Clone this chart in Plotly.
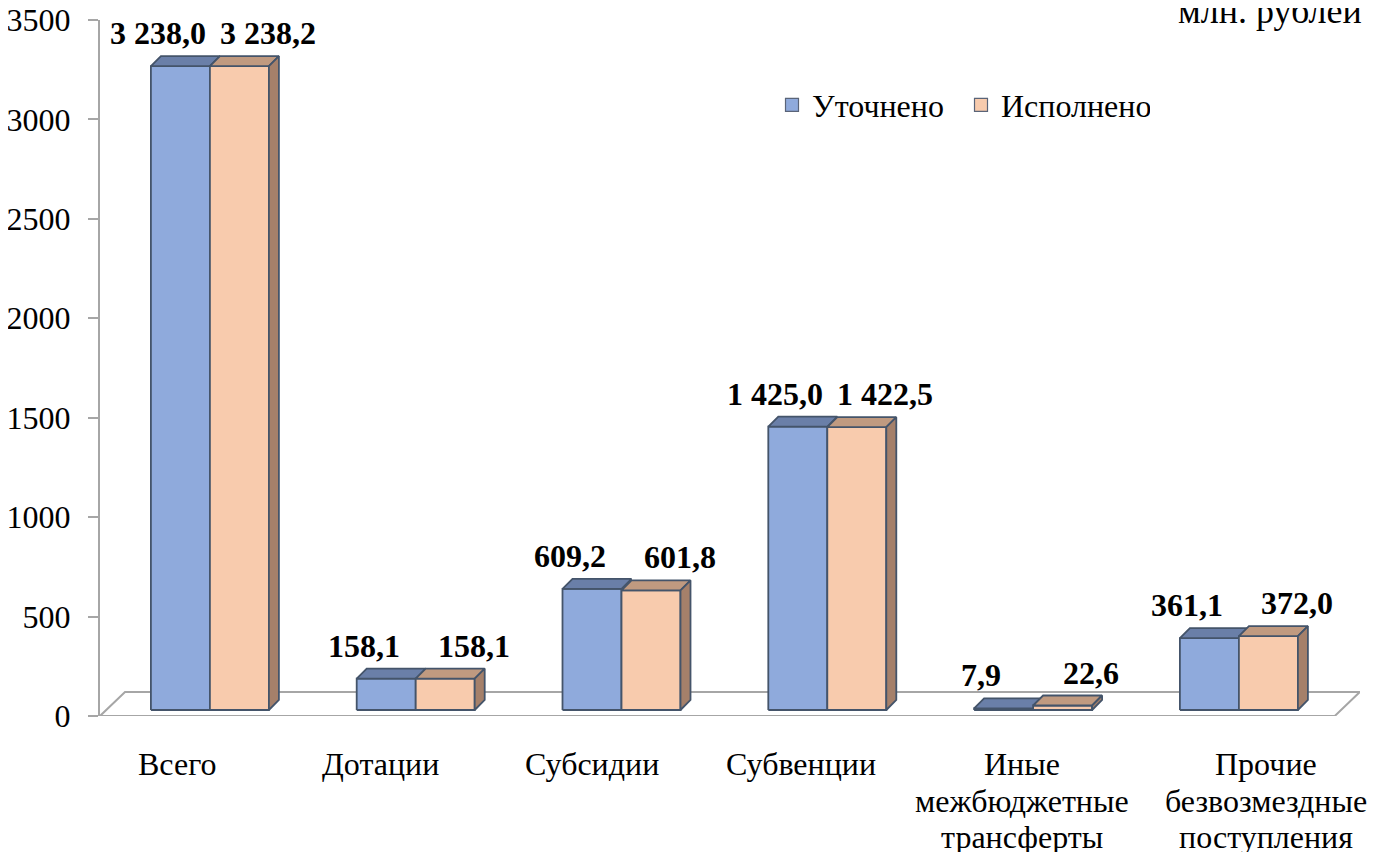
import plotly.graph_objects as go

# ---- data ----
categories = ["Всего", "Дотации", "Субсидии", "Субвенции",
              "Иные<br>межбюджетные<br>трансферты",
              "Прочие<br>безвозмездные<br>поступления"]
refined = [3238.0, 158.1, 609.2, 1425.0, 7.9, 361.1]      # Уточнено
executed = [3238.2, 158.1, 601.8, 1422.5, 22.6, 372.0]    # Исполнено
series_names = ["Уточнено", "Исполнено"]
y_ticks = [0, 500, 1000, 1500, 2000, 2500, 3000, 3500]
unit_label = "млн. рублей"

# perspective nudges of the category labels (pixels, layout only)
label_dx = [-26, -28, -23, -19, -4, 34]

def fmt(v):
    s = f"{v:,.1f}".replace(",", " ").replace(".", ",")
    return s

# ---- geometry (pixels); page body has an 8px margin ----
OFF = 8
W, H = 1379 - OFF, 852 - OFF
PL, PR, PT, PB = 100 - OFF, 1360 - OFF, 20 - OFF, 716 - OFF
CAT_PX = 205.8
YMAX = 3500
PXY = (PB - PT) / YMAX
BAR_W = 59
SX, SY = 7, 6       # bar front offset from floor front plane
DX, DY = 10, 10     # bar depth
FX, FY = 25, 24     # floor depth
FS = 32
LINE_H = 36.5

FONT = "'Liberation Serif', 'Times New Roman', serif"
EDGE = "#44546a"
BLUE_FRONT, BLUE_TOP = "#8faadc", "#6a7fa8"
OR_FRONT, OR_TOP, OR_SIDE = "#f8cbad", "#c09a80", "#a5806a"

def ux(px):
    return px / CAT_PX

def uy(px):
    return px / PXY

fig = go.Figure()

def poly(xs, ys, color):
    fig.add_trace(go.Scatter(
        x=xs + [xs[0]], y=ys + [ys[0]], mode="lines", fill="toself",
        fillcolor=color, line=dict(color=EDGE, width=1.8),
        showlegend=False, hoverinfo="skip"))

for i, (vb, vo) in enumerate(zip(refined, executed)):
    yb = uy(SY)
    # blue bar
    x0 = i + ux(SX - BAR_W)
    x1 = i + ux(SX)
    y1 = vb + yb
    poly([x0, x1, x1, x0], [yb, yb, y1, y1], BLUE_FRONT)
    poly([x0, x1, x1 + ux(DX), x0 + ux(DX)], [y1, y1, y1 + uy(DY), y1 + uy(DY)], BLUE_TOP)
    # orange bar
    x0 = i + ux(SX)
    x1 = x0 + ux(BAR_W)
    y1 = vo + yb
    poly([x0, x1, x1, x0], [yb, yb, y1, y1], OR_FRONT)
    poly([x0, x1, x1 + ux(DX), x0 + ux(DX)], [y1, y1, y1 + uy(DY), y1 + uy(DY)], OR_TOP)
    poly([x1, x1 + ux(DX), x1 + ux(DX), x1], [yb, yb + uy(DY), y1 + uy(DY), y1], OR_SIDE)

# legend entries
for name, col in zip(series_names, [BLUE_FRONT, OR_FRONT]):
    fig.add_trace(go.Scatter(
        x=[None], y=[None], mode="markers", name=name,
        marker=dict(symbol="square", size=13, color=col,
                    line=dict(color="#5a6478", width=1.2))))

n = len(categories)
xr0 = -0.5
xr1 = -0.5 + (PR - PL) / CAT_PX

# floor parallelogram
fig.add_shape(type="path", layer="below",
              path=(f"M {xr0},0 L {n - 0.5},0 L {n - 0.5 + ux(FX)},{uy(FY)} "
                    f"L {xr0 + ux(FX)},{uy(FY)} Z"),
              xref="x", yref="y", line=dict(color="#a6a6a6", width=2),
              fillcolor="white")

annotations = []
for i, (vb, vo) in enumerate(zip(refined, executed)):
    for v, xs in ((vb, -52), (vo, 58)):
        annotations.append(dict(
            x=i + ux(SX), y=v + uy(SY), xref="x", yref="y",
            text=f"<b>{fmt(v)}</b>", showarrow=False,
            xshift=xs, yshift=33, yanchor="middle",
            font=dict(family=FONT, size=FS, color="black")))
    lines = categories[i].split("<br>")
    for k, line in enumerate(lines):
        annotations.append(dict(
            x=i, y=0, xref="x", yref="y", text=line, showarrow=False,
            yanchor="middle", yshift=-(48 + k * LINE_H), xshift=label_dx[i],
            align="center",
            font=dict(family=FONT, size=FS, color="black")))

annotations.append(dict(
    x=(1364 - 100) / (PR - PL), y=(716 - 11) / (PB - PT), xref="paper", yref="paper",
    text=unit_label, showarrow=False, xanchor="right", yanchor="middle",
    font=dict(family=FONT, size=36, color="black")))

fig.update_layout(
    template="none",
    width=W, height=H,
    margin=dict(l=PL, r=W - PR, t=PT, b=H - PB, pad=0, autoexpand=False),
    paper_bgcolor="white", plot_bgcolor="white",
    showlegend=True,
    legend=dict(orientation="h", x=(772 - 100) / (PR - PL), y=(716 - 105) / (PB - PT),
                xanchor="left", yanchor="middle", entrywidth=144,
                font=dict(family=FONT, size=FS, color="black"),
                bgcolor="rgba(0,0,0,0)"),
    xaxis=dict(range=[xr0, xr1], visible=False, fixedrange=True, automargin=False),
    yaxis=dict(range=[0, YMAX], tickvals=y_ticks, showgrid=False, zeroline=False,
               showline=True, linecolor="#a6a6a6", linewidth=2, automargin=False,
               ticks="outside", ticklen=10, tickcolor="#a6a6a6", tickwidth=2,
               ticklabelstandoff=11, ticklabeloverflow="allow",
               tickfont=dict(family=FONT, size=FS, color="black"), fixedrange=True),
    annotations=annotations,
)

fig.write_html("out.html")
